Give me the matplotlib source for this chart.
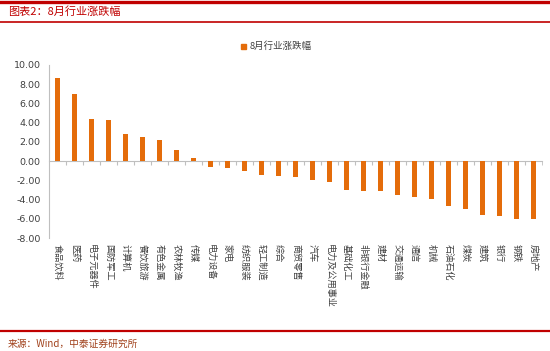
import matplotlib
matplotlib.use("Agg")
import matplotlib.pyplot as plt
import matplotlib.transforms as mtrans
import numpy as np

plt.rcParams['font.family'] = ['Noto Sans CJK SC', 'DejaVu Sans']

# 行业名称和8月涨跌幅(%)
hangye = ['食品饮料', '医药', '电子元器件', '国防军工', '计算机', '餐饮旅游',
          '有色金属', '农林牧渔', '传媒', '电力设备', '家电', '纺织服装',
          '轻工制造', '综合', '商贸零售', '汽车', '电力及公用事业', '基础化工',
          '非银行金融', '建材', '交通运输', '通信', '机械', '石油石化',
          '煤炭', '建筑', '银行', '钢铁', '房地产']
zhangdie = [8.62, 7.02, 4.38, 4.24, 2.78, 2.53, 2.22, 1.15, 0.31, -0.59,
            -0.76, -1.04, -1.49, -1.56, -1.63, -1.95, -2.22, -3.02, -3.09,
            -3.16, -3.55, -3.72, -3.93, -4.69, -4.94, -5.60, -5.70, -5.98,
            -6.05]
yticks = [10, 8, 6, 4, 2, 0, -2, -4, -6, -8]

naranja = '#E46C0A'
rojo = '#C00000'

fig = plt.figure(figsize=(5.5, 3.51), dpi=100)
ax = fig.add_axes([49/550, 1-238/351, (542-49)/550, (238-65)/351])

xs = np.arange(len(hangye))
ax.bar(xs, zhangdie, width=0.32, color=naranja, zorder=3)

ax.set_xlim(-0.5, len(hangye)-0.5)
ax.set_ylim(-8, 10)
ax.set_yticks(yticks)
ax.set_yticklabels(['%.2f' % v for v in yticks], family='DejaVu Sans',
                   fontsize=6.8, color='#404040')
ax.tick_params(axis='y', length=0, pad=6)

# eje x en cero con marcas entre categorias
ax.spines['top'].set_visible(False)
ax.spines['right'].set_visible(False)
ax.spines['bottom'].set_position(('data', 0))
ax.spines['bottom'].set_color('#BFBFBF')
ax.spines['left'].set_color('#BFBFBF')
ax.set_xticks(xs[:-1] + 0.5)
ax.set_xticks([len(hangye)-0.5], minor=True)
ax.set_xticklabels([])
ax.tick_params(axis='x', which='both', direction='out', length=3,
               color='#BFBFBF')

# etiquetas verticales (texto girado)
tr = mtrans.blended_transform_factory(ax.transData, fig.transFigure)
for i, nombre in enumerate(hangye):
    ax.text(i, 1-244/351, nombre, transform=tr, ha='center', va='top',
            rotation=270, fontsize=6.6, color='#404040')

# leyenda
fig.patches.append(plt.Rectangle((241/550, 1-49/351), 5/550, 5/351,
                                 transform=fig.transFigure, color=naranja))
fig.text(250/550, 1-46/351, '8月行业涨跌幅', fontsize=6.8, color='#404040',
         va='center')

# titulo y fuente
fig.add_artist(plt.Line2D([0, 1], [1-2/351, 1-2/351], color=rojo, lw=2.4))
fig.add_artist(plt.Line2D([0, 1], [1-22/351, 1-22/351], color=rojo, lw=1.2))
fig.text(8/550, 1-12/351, '图表2：8月行业涨跌幅', fontsize=8, color=rojo,
         va='center', style='italic')
fig.add_artist(plt.Line2D([0, 1], [1-331/351, 1-331/351], color=rojo, lw=1.6))
fig.text(8/550, 1-344/351, '来源：Wind，中泰证券研究所', fontsize=7,
         color='#A0401A', va='center')

fig.savefig('out.png', dpi=100)
